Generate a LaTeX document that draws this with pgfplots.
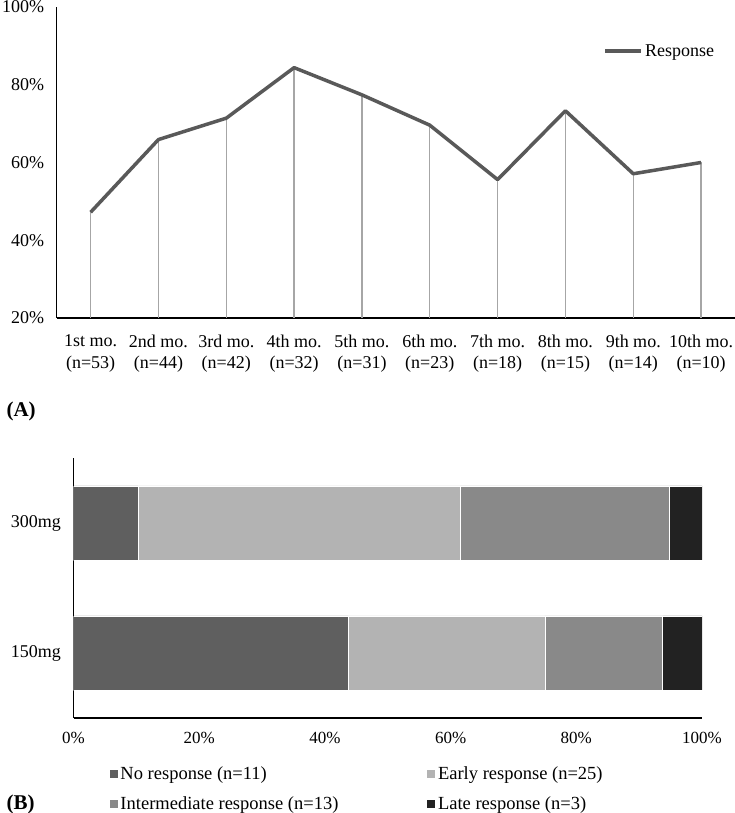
\documentclass[border=0pt]{standalone}
\usepackage{pgfplots}
\pgfplotsset{compat=1.18}
\usepackage{fontspec}
\setmainfont{Liberation Serif}
\definecolor{lineC}{HTML}{595959}
\definecolor{dropC}{HTML}{A6A6A6}
\definecolor{noC}{HTML}{5F5F5F}
\definecolor{earlyC}{HTML}{B3B3B3}
\definecolor{interC}{HTML}{898989}
\definecolor{lateC}{HTML}{222222}
\pgfplotstableread{
x y
1 47.2
2 65.9
3 71.4
4 84.4
5 77.4
6 69.6
7 55.6
8 73.3
9 57.1
10 60.0
}\resp
\begin{document}
\begin{tikzpicture}[font=\fontsize{18}{21.6}\selectfont]
\path[use as bounding box] (0,0) rectangle (735pt,813pt);
\begin{axis}[
  at={(56.7pt,495pt)}, anchor=south west, scale only axis,
  width=678.3pt, height=311pt,
  xmin=0.5, xmax=10.5, ymin=20, ymax=100,
  axis x line=bottom, axis y line=left,
  axis line style={-, line width=1.2pt, black},
  xtick={1,...,10},
  xticklabels={{1st mo.\\(n=53)},{2nd mo.\\(n=44)},{3rd mo.\\(n=42)},{4th mo.\\(n=32)},{5th mo.\\(n=31)},{6th mo.\\(n=23)},{7th mo.\\(n=18)},{8th mo.\\(n=15)},{9th mo.\\(n=14)},{10th mo.\\(n=10)}},
  ytick={20,40,...,100},
  yticklabel={\pgfmathprintnumber{\tick}\%},
  /pgf/number format/assume math mode=true,
  major tick length=0pt,
  xticklabel style={align=center, yshift=-13pt},
  yticklabel style={xshift=-9pt},
  legend style={at={(0.806,0.8585)}, anchor=west, draw=none, fill=none, inner sep=0pt,
    nodes={inner xsep=2pt}},
  legend image code/.code={\draw[line width=3.5pt] (0pt,0pt) -- (36pt,0pt);},
]
\addplot[ycomb, color=dropC, line width=1.4pt, forget plot] table[x=x,y=y] {\resp};
\addplot[color=lineC, line width=3.5pt, line join=round, mark=none] table[x=x,y=y] {\resp};
\legend{Response}
\end{axis}
\node[anchor=west, font=\bfseries\fontsize{21}{24}\selectfont] at (3pt,402pt) {(A)};
\begin{axis}[
  at={(73.5pt,95pt)}, anchor=south west, scale only axis,
  width=628.5pt, height=260pt,
  xbar stacked, bar width=74pt,
  xmin=0, xmax=100, ymin=-0.5, ymax=1.5,
  ytick={0,1}, yticklabels={150mg,300mg},
  xtick={0,20,...,100},
  xticklabel={\pgfmathprintnumber{\tick}\%},
  /pgf/number format/assume math mode=true,
  axis x line=bottom, axis y line=left,
  axis line style={-, line width=1.2pt, black},
  major tick length=0pt,
  xticklabel style={yshift=-11pt, font=\fontsize{17}{20}\selectfont},
  yticklabel style={xshift=-9pt},
  legend columns=2,
  legend cell align=left,
  legend style={at={(0.056,-0.178)}, anchor=north west, draw=none, fill=none, inner sep=0pt,
    row sep=12pt, font=\fontsize{18.5}{22}\selectfont, nodes={inner xsep=2pt, inner ysep=2pt},
    /tikz/every even column/.append style={column sep=86pt}},
  legend image code/.code={\fill (0pt,-4.5pt) rectangle (9pt,4.5pt);},
]
\addplot[fill=noC, draw=white, line width=0.6pt] coordinates {(43.75,0) (10.26,1)};
\addplot[fill=earlyC, draw=white, line width=0.6pt] coordinates {(31.25,0) (51.28,1)};
\addplot[fill=interC, draw=white, line width=0.6pt] coordinates {(18.75,0) (33.33,1)};
\addplot[fill=lateC, draw=white, line width=0.6pt] coordinates {(6.25,0) (5.13,1)};
\legend{No response (n=11), Early response (n=25), Intermediate response (n=13), Late response (n=3)}
\end{axis}
\node[anchor=west, font=\bfseries\fontsize{21}{24}\selectfont] at (3pt,9pt) {(B)};
\end{tikzpicture}
\end{document}
